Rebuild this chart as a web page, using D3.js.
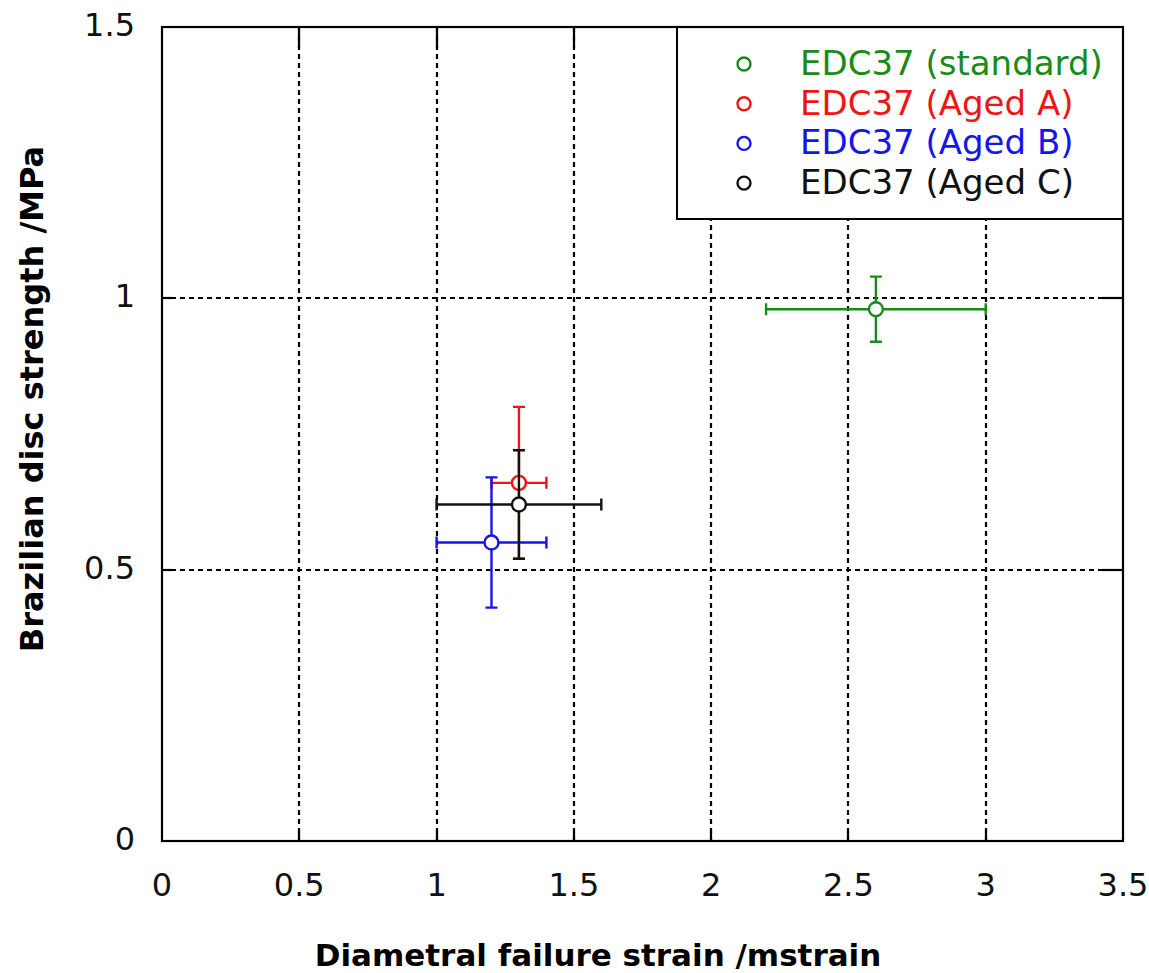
<!DOCTYPE html>
<html>
<head>
<meta charset="utf-8">
<script src="https://cdn.jsdelivr.net/npm/d3@7"></script>
<style>
	body { margin: 0; background: #fff; }
	text { font-family: "DejaVu Sans", sans-serif; }
</style>
</head>
<body>
<svg id="chart" width="1149" height="973"></svg>
<script>
// series data
var series = ["EDC37 (standard)", "EDC37 (Aged A)", "EDC37 (Aged B)", "EDC37 (Aged C)"];
var colors = ["#1a8a1a", "#ee1515", "#1515ee", "#111111"];
var strainMean = [2.6, 1.3, 1.2, 1.3];
var strainLow = [2.2, 1.2, 1.0, 1.0];
var strainHigh = [3.0, 1.4, 1.4, 1.6];
var strengthMean = [0.98, 0.66, 0.55, 0.62];
var strengthLow = [0.92, 0.52, 0.43, 0.52];
var strengthHigh = [1.04, 0.80, 0.67, 0.72];

var xTicks = [0, 0.5, 1, 1.5, 2, 2.5, 3, 3.5];
var yTicks = [0, 0.5, 1, 1.5];

var svg = d3.select("#chart");

// "top" is taken by window.top, so plot edges get their own names
var plotLeft = 162, plotRight = 1123, plotTop = 27, plotBottom = 841;

var x = d3.scaleLinear().domain([0, 3.5]).range([plotLeft, plotRight]);
var y = d3.scaleLinear().domain([0, 1.5]).range([plotBottom, plotTop]);

var points = series.map(function(name, i) {
	return {
		name: name,
		color: colors[i],
		x: strainMean[i], x0: strainLow[i], x1: strainHigh[i],
		y: strengthMean[i], y0: strengthLow[i], y1: strengthHigh[i]
	};
});

svg.append("rect").attr("width", 1149).attr("height", 973).attr("fill", "#fff");

//dotted grid
var inner = function(v, i, a) { return i > 0 && i < a.length - 1; };

svg.selectAll(".vgrid")
	.data(xTicks.filter(inner))
	.enter().append("line")
	.attr("class", "vgrid")
	.attr("x1", function(d) { return Math.round(x(d)); })
	.attr("x2", function(d) { return Math.round(x(d)); })
	.attr("y1", plotTop)
	.attr("y2", plotBottom)
	.attr("stroke", "#000")
	.attr("stroke-width", 2.2)
	.attr("stroke-dasharray", "5,4");

svg.selectAll(".hgrid")
	.data(yTicks.filter(inner))
	.enter().append("line")
	.attr("class", "hgrid")
	.attr("y1", function(d) { return Math.round(y(d)); })
	.attr("y2", function(d) { return Math.round(y(d)); })
	.attr("x1", plotLeft)
	.attr("x2", plotRight)
	.attr("stroke", "#000")
	.attr("stroke-width", 2.2)
	.attr("stroke-dasharray", "5,4");

//ticks: short inside at bottom/left, longer at top/right
var tickG = svg.append("g").attr("stroke", "#000").attr("stroke-width", 2.2);
xTicks.filter(inner).forEach(function(t) {
	var px = Math.round(x(t));
	tickG.append("line").attr("x1", px).attr("x2", px).attr("y1", plotBottom).attr("y2", plotBottom - 10);
	tickG.append("line").attr("x1", px).attr("x2", px).attr("y1", plotTop).attr("y2", plotTop + 21);
});
yTicks.filter(inner).forEach(function(t) {
	var py = Math.round(y(t));
	tickG.append("line").attr("y1", py).attr("y2", py).attr("x1", plotLeft).attr("x2", plotLeft + 10);
	tickG.append("line").attr("y1", py).attr("y2", py).attr("x1", plotRight).attr("x2", plotRight - 21);
});

//legend box covers grid and ticks
var legend = svg.append("g");
legend.append("rect")
	.attr("x", 677).attr("y", plotTop)
	.attr("width", plotRight - 677).attr("height", 219 - plotTop)
	.attr("fill", "#fff")
	.attr("stroke", "#000")
	.attr("stroke-width", 2);

var rows = legend.selectAll(".legend_row")
	.data(points)
	.enter().append("g")
	.attr("class", "legend_row")
	.attr("transform", function(d, i) { return "translate(0," + (64 + i * 39.7) + ")"; });

rows.append("circle")
	.attr("cx", 744).attr("cy", 0).attr("r", 6.5)
	.attr("fill", "#fff")
	.attr("stroke", function(d) { return d.color; })
	.attr("stroke-width", 2.4);

rows.append("text")
	.attr("x", 800).attr("y", 11)
	.attr("font-size", 34)
	.attr("fill", function(d) { return d.color; })
	.text(function(d) { return d.name; });

//frame
svg.append("rect")
	.attr("x", plotLeft).attr("y", plotTop)
	.attr("width", plotRight - plotLeft).attr("height", plotBottom - plotTop)
	.attr("fill", "none")
	.attr("stroke", "#000")
	.attr("stroke-width", 2.2);

//tick labels
svg.selectAll(".xlabel")
	.data(xTicks)
	.enter().append("text")
	.attr("class", "xlabel")
	.attr("x", function(d) { return x(d); })
	.attr("y", 896)
	.attr("text-anchor", "middle")
	.attr("font-size", 32)
	.attr("fill", "#111")
	.text(function(d) { return d; });

svg.selectAll(".ylabel")
	.data(yTicks)
	.enter().append("text")
	.attr("class", "ylabel")
	.attr("x", 135)
	.attr("y", function(d) { return y(d) + 9; })
	.attr("text-anchor", "end")
	.attr("font-size", 32)
	.attr("fill", "#111")
	.text(function(d) { return d; });

//axis titles
svg.append("text")
	.attr("x", 598).attr("y", 966)
	.attr("text-anchor", "middle")
	.attr("font-size", 31)
	.attr("font-weight", "bold")
	.text("Diametral failure strain /mstrain");

svg.append("text")
	.attr("transform", "translate(43,399) rotate(-90)")
	.attr("text-anchor", "middle")
	.attr("font-size", 32)
	.attr("font-weight", "bold")
	.text("Brazilian disc strength /MPa");

//error bars and markers
var cap = 6;
var marks = svg.selectAll(".point")
	.data(points)
	.enter().append("g")
	.attr("class", "point")
	.attr("stroke", function(d) { return d.color; })
	.attr("stroke-width", 2.4)
	.attr("fill", "none");

marks.append("path")
	.attr("d", function(d) {
		var cx = x(d.x), cy = y(d.y);
		var xa = x(d.x0), xb = x(d.x1), ya = y(d.y0), yb = y(d.y1);
		return "M" + xa + "," + cy + "H" + xb +
			"M" + xa + "," + (cy - cap) + "V" + (cy + cap) +
			"M" + xb + "," + (cy - cap) + "V" + (cy + cap) +
			"M" + cx + "," + ya + "V" + yb +
			"M" + (cx - cap) + "," + ya + "H" + (cx + cap) +
			"M" + (cx - cap) + "," + yb + "H" + (cx + cap);
	});

marks.append("circle")
	.attr("cx", function(d) { return x(d.x); })
	.attr("cy", function(d) { return y(d.y); })
	.attr("r", 7)
	.attr("fill", "#fff");
</script>
</body>
</html>
